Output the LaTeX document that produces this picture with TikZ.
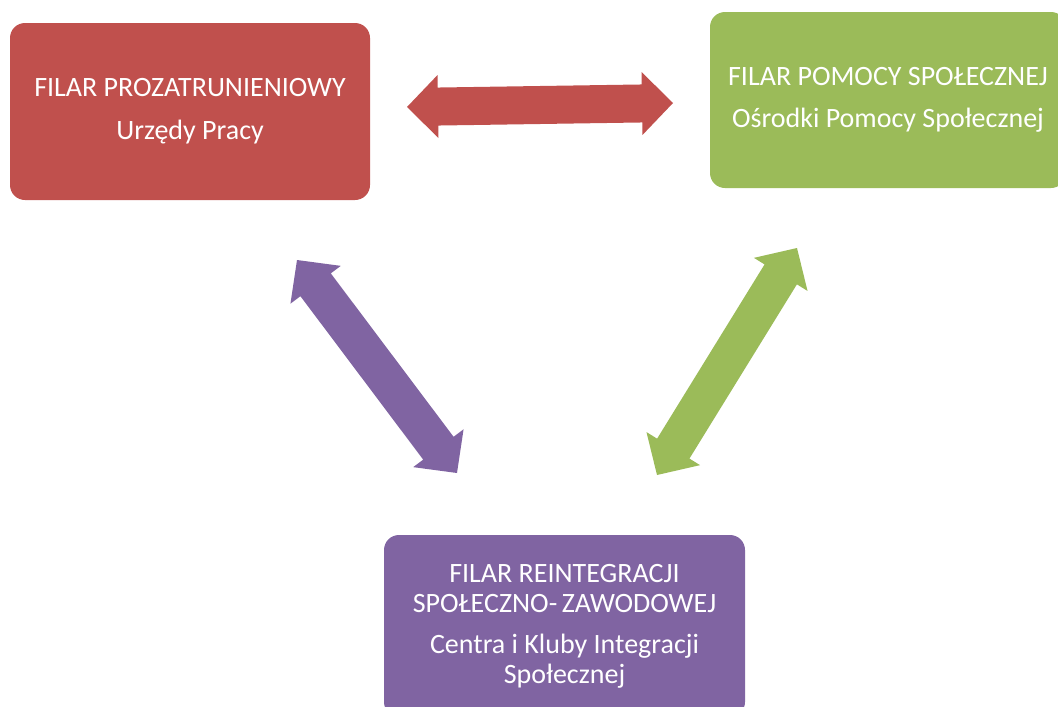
\documentclass[tikz,border=0pt]{standalone}
\usepackage{fontspec}
\setmainfont{Carlito}
\usetikzlibrary{calc}
\definecolor{cred}{HTML}{C0504D}
\definecolor{cgreen}{HTML}{9BBB59}
\definecolor{cpurple}{HTML}{8064A2}
\def\hl{31pt}
\def\hh{31.5pt}
\def\sw{19pt}
\newcommand{\dblarrow}[3]{%
\fill[#1] (#2) -- ($(#2)!\hl!(#3)!\hh!90:(#3)$) -- ($(#2)!\hl!(#3)!\sw!90:(#3)$)
 -- ($(#3)!\hl!(#2)!\sw!-90:(#2)$) -- ($(#3)!\hl!(#2)!\hh!-90:(#2)$) -- (#3)
 -- ($(#3)!\hl!(#2)!\hh!90:(#2)$) -- ($(#3)!\hl!(#2)!\sw!90:(#2)$)
 -- ($(#2)!\hl!(#3)!\sw!-90:(#3)$) -- ($(#2)!\hl!(#3)!\hh!-90:(#3)$) -- cycle;}
\begin{document}
\begin{tikzpicture}[x=1pt,y=-1pt,
  box/.style={rounded corners=15pt, text=white, align=center, inner sep=0pt,
    font=\fontsize{28}{30}\selectfont}]
\useasboundingbox (0,0) rectangle (1058,707);
\clip (0,0) rectangle (1058,707);
\node[box, fill=cred, minimum width=360pt, minimum height=177pt] (red) at (190,111.5)
  {FILAR PROZATRUNIENIOWY\\[13pt]Urzędy Pracy};
\node[box, fill=cgreen, minimum width=356pt, minimum height=176pt] (green) at (888,100)
  {FILAR POMOCY SPOŁECZNEJ\\[12pt]Ośrodki Pomocy Społecznej};
\node[box, fill=cpurple, minimum width=361pt, minimum height=182pt] (purple) at (564.5,626)
  {FILAR REINTEGRACJI\\SPOŁECZNO-\,ZAWODOWEJ\\[11pt]Centra i Kluby Integracji\\Społecznej};
\coordinate (r1) at (407,107);
\coordinate (r2) at (673,103);
\coordinate (p1) at (297,260);
\coordinate (p2) at (457,473);
\coordinate (g1) at (797,248);
\coordinate (g2) at (657,475);
\dblarrow{cred}{r1}{r2}
\dblarrow{cpurple}{p1}{p2}
\dblarrow{cgreen}{g1}{g2}
\end{tikzpicture}
\end{document}
